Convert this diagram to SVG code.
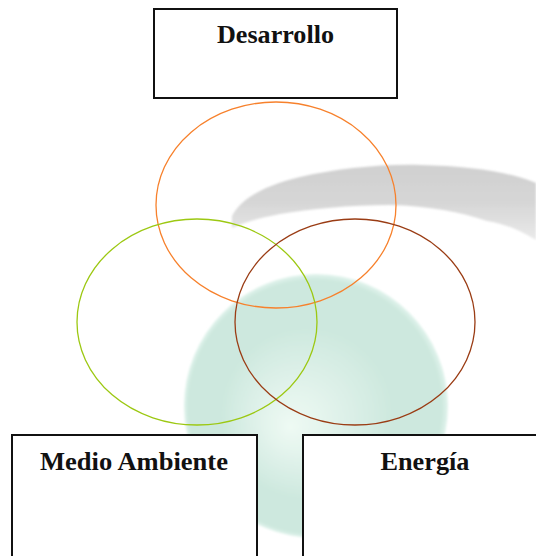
<svg xmlns="http://www.w3.org/2000/svg" width="536" height="556" viewBox="0 0 536 556">
  <style>
    .box { fill: #ffffff; stroke: #111111; stroke-width: 2; }
    .lbl { font-family: "Liberation Serif", "Times New Roman", serif; font-weight: bold; font-size: 26px; fill: #111111; text-anchor: middle; }
    .ring { fill: none; stroke-width: 1.3; }
  </style>
  <defs>
    <radialGradient id="teal" cx="0.5" cy="0.5" r="0.5" fx="0.4" fy="0.58">
      <stop offset="0" stop-color="#eefaf4"/>
      <stop offset="0.3" stop-color="#e0f2ea"/>
      <stop offset="0.65" stop-color="#cde8de"/>
      <stop offset="0.96" stop-color="#cde8de"/>
      <stop offset="1" stop-color="#e2f4ed"/>
    </radialGradient>
    <linearGradient id="gray" x1="0" y1="0" x2="0" y2="1">
      <stop offset="0" stop-color="#d0d0d0"/>
      <stop offset="0.5" stop-color="#d6d6d6"/>
      <stop offset="1" stop-color="#eaeaea"/>
    </linearGradient>
    <filter id="soft" x="-5%" y="-20%" width="110%" height="140%">
      <feGaussianBlur stdDeviation="1"/>
    </filter>
  </defs>

  <g id="background">
    <circle cx="316" cy="406" r="132" fill="url(#teal)" filter="url(#soft)"/>
    <path d="M232,216 C240,200 262,186 300,177 C335,169 380,164 420,165 C470,166 510,172 536,183 L536,240 C520,230 505,224 487,221 C460,212 430,206 390,205 C350,205 310,209 280,214 C260,218 245,222 232,228 Z" fill="url(#gray)" filter="url(#soft)"/>
  </g>

  <g id="circles">
    <ellipse id="circle-desarrollo" class="ring" cx="276" cy="205" rx="120" ry="103" stroke="#f7812c"/>
    <ellipse id="circle-medio" class="ring" cx="197" cy="322" rx="120" ry="103" stroke="#9cc812"/>
    <ellipse id="circle-energia" class="ring" cx="355" cy="322" rx="120" ry="103" stroke="#9a3c14"/>
  </g>

  <g id="connectors"></g>

  <g id="node-desarrollo">
    <rect class="box" x="154" y="9" width="243" height="89"/>
    <text class="lbl" x="275.5" y="43" textLength="117" lengthAdjust="spacingAndGlyphs">Desarrollo</text>
  </g>

  <g id="node-medio-ambiente">
    <rect class="box" x="12" y="435" width="245" height="130"/>
    <text class="lbl" x="134" y="470" textLength="188" lengthAdjust="spacingAndGlyphs">Medio Ambiente</text>
  </g>

  <g id="node-energia">
    <rect class="box" x="303" y="435" width="245" height="130"/>
    <text class="lbl" x="425" y="470" textLength="89" lengthAdjust="spacingAndGlyphs">Energía</text>
  </g>
</svg>
